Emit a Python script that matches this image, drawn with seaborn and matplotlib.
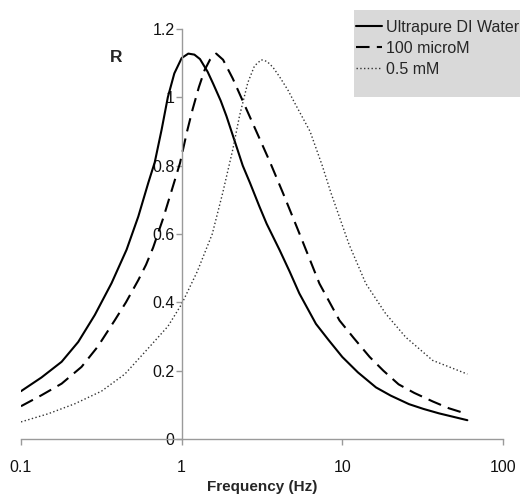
import numpy as np
import pandas as pd
import matplotlib
matplotlib.use("Agg")
import matplotlib.pyplot as plt
from matplotlib.patches import Rectangle
from matplotlib.ticker import NullLocator
import seaborn as sns

# valores (frequencia em Hz, R)
freq_water = [0.1, 0.134, 0.179, 0.227, 0.288, 0.366, 0.454, 0.537, 0.62, 0.68, 0.75, 0.82, 0.9,
              1.0, 1.1, 1.2, 1.3, 1.45, 1.57, 1.75, 1.9, 2.19, 2.4, 2.66, 3.05, 3.38, 4.07, 4.7,
              5.4, 6.85, 8.2, 10, 12.5, 16.2, 20, 26, 32, 40, 48, 60]
r_water = [0.14, 0.18, 0.226, 0.284, 0.363, 0.456, 0.554, 0.651, 0.75, 0.81, 0.905, 1.0, 1.07,
           1.115, 1.128, 1.125, 1.112, 1.075, 1.04, 0.99, 0.945, 0.857, 0.80, 0.75, 0.68, 0.63,
           0.553, 0.49, 0.426, 0.337, 0.29, 0.24, 0.195, 0.151, 0.127, 0.102, 0.088, 0.075, 0.066, 0.055]

freq_100um = [0.1, 0.134, 0.179, 0.238, 0.30, 0.384, 0.45, 0.537, 0.60, 0.664, 0.766, 0.87, 0.977,
              1.08, 1.17, 1.28, 1.39, 1.5, 1.64, 1.81, 2.08, 2.45, 2.95, 3.55, 4.27, 5.16, 5.53,
              7.2, 9.6, 11.8, 14.8, 18, 22.4, 28, 36.5, 46, 60]
r_100um = [0.096, 0.128, 0.162, 0.211, 0.27, 0.348, 0.40, 0.465, 0.51, 0.56, 0.645, 0.73, 0.808,
           0.90, 0.965, 1.03, 1.08, 1.11, 1.128, 1.11, 1.055, 0.98, 0.895, 0.81, 0.72, 0.625, 0.59,
           0.455, 0.347, 0.295, 0.24, 0.20, 0.16, 0.135, 0.11, 0.09, 0.073]

freq_05mm = [0.1, 0.148, 0.216, 0.317, 0.443, 0.618, 0.822, 1.0, 1.25, 1.55, 1.8, 2.08, 2.29,
             2.58, 2.84, 3.13, 3.4, 3.7, 4.07, 4.6, 5.1, 6.3, 7.5, 8.5, 11, 14, 18.6, 24.8, 36.5, 60]
r_05mm = [0.05, 0.074, 0.103, 0.14, 0.19, 0.265, 0.33, 0.395, 0.49, 0.60, 0.72, 0.847, 0.945,
          1.043, 1.092, 1.11, 1.105, 1.088, 1.06, 1.02, 0.98, 0.90, 0.80, 0.72, 0.57, 0.455,
          0.367, 0.298, 0.23, 0.19]

labels_series = ["Ultrapure DI Water", "100 microM", "0.5 mM"]
yticks = [0, 0.2, 0.4, 0.6, 0.8, 1.0, 1.2]
ytick_labels = ["0", "0.2", "0.4", "0.6", "0.8", "1", "1.2"]
xticks = [0.1, 1, 10, 100]
xtick_labels = ["0.1", "1", "10", "100"]

sns.set_style("white")
plt.rcParams["font.family"] = ["Liberation Sans", "DejaVu Sans"]

fig = plt.figure(figsize=(5.2, 4.96), dpi=100)
ax = fig.add_axes([21 / 520, 1 - 439 / 496, (503 - 21) / 520, (439 - 29) / 496])
ax.patch.set_visible(False)

sns.lineplot(x=freq_water, y=r_water, ax=ax, color="black", linewidth=1.5,
             label=labels_series[0])
sns.lineplot(x=freq_100um, y=r_100um, ax=ax, color="black", linewidth=1.5,
             linestyle=(0, (6.5, 3.5)), label=labels_series[1])
sns.lineplot(x=freq_05mm, y=r_05mm, ax=ax, color="#333333", linewidth=1.0,
             linestyle=(0, (1, 1.7)), label=labels_series[2])

ax.set_xscale("log")
ax.set_xlim(0.1, 100)
ax.set_ylim(0, 1.2)
ax.set_xticks(xticks)
ax.set_xticklabels(xtick_labels)
ax.xaxis.set_minor_locator(NullLocator())
ax.set_yticks(yticks)
ax.set_yticklabels(ytick_labels)

sns.despine(ax=ax, top=True, right=True)
ax.spines["left"].set_position(("data", 1))
for s in ["left", "bottom"]:
    ax.spines[s].set_color("#9a9a9a")
    ax.spines[s].set_linewidth(1)

ax.tick_params(axis="y", direction="out", length=4, width=1, color="#9a9a9a",
               pad=1, labelsize=11.5, labelcolor="#111111", left=True)
ax.tick_params(axis="x", direction="out", length=4, width=1, color="#9a9a9a",
               pad=11, labelsize=11.5, labelcolor="#111111", bottom=True)

ax.set_xlabel("Frequency (Hz)", fontsize=11, fontweight="bold", labelpad=4)
ax.set_ylabel("")
fig.text(116 / 520, 1 - 58 / 496, "R", fontsize=12.5, fontweight="bold",
         ha="center", va="center")

# caixa cinza da legenda
ax.add_patch(Rectangle((354 / 520, 1 - 97 / 496), 170 / 520, 87 / 496,
                       transform=fig.transFigure, facecolor="#d9d9d9",
                       edgecolor="none", clip_on=False, zorder=0))
ax.legend(loc="upper left", bbox_to_anchor=(356 / 520, 1 - 20 / 496),
          bbox_transform=fig.transFigure, frameon=False, fontsize=11.5,
          handlelength=1.6, handletextpad=0.25, labelspacing=0.36,
          borderpad=0, borderaxespad=0)

fig.savefig("out.png", dpi=100)
